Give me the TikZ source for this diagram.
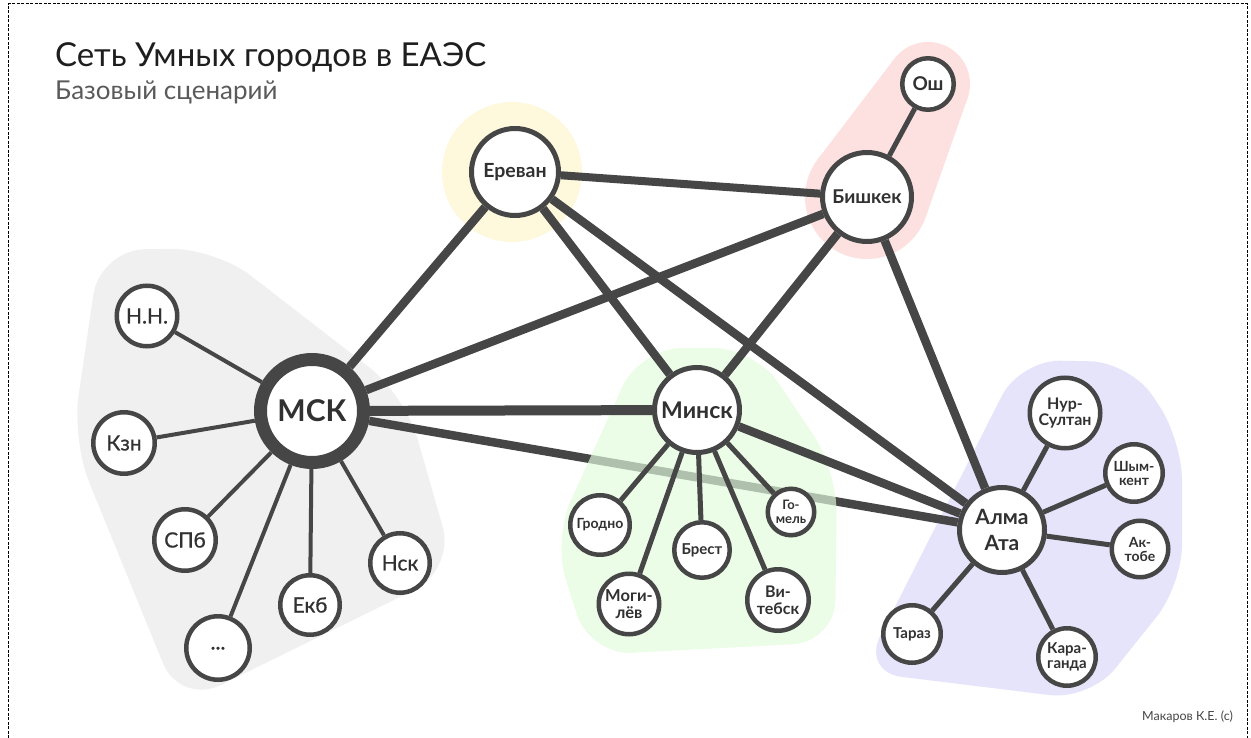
\documentclass[tikz,border=0pt]{standalone}
\usepackage{fontspec}
\setmainfont{Lato}
\newfontfamily\medfont[FakeBold=0.6]{Lato}
\newcommand\fsz[2]{\fontsize{#1}{#2}\selectfont}
\definecolor{dk}{HTML}{464646}
\definecolor{grayreg}{HTML}{F0F0F0}
\definecolor{yellowreg}{HTML}{FEF8DC}
\definecolor{pinkreg}{HTML}{FDE0E0}
\definecolor{purplereg}{HTML}{E6E4FB}
\definecolor{greenreg}{HTML}{E2FBDD}
\definecolor{titlecol}{HTML}{1E1E1E}
\definecolor{subcol}{HTML}{5A5A5A}
\pgfdeclarelayer{regions}
\pgfdeclarelayer{under}
\pgfdeclarelayer{greenlayer}
\pgfdeclarelayer{lines}
\pgfsetlayers{regions,under,greenlayer,lines,main}
\tikzset{
  city/.style={circle, draw=dk, fill=white, inner sep=0pt, align=center, text=dk!70!black},
  hub/.style={city, line width=5pt, font=\bfseries},
  sat/.style={city, line width=4.5pt},
  bsat/.style={city, line width=4.5pt, font=\bfseries},
  link/.style={draw=dk, line width=8.5pt},
  spoke/.style={draw=dk, line width=5pt},
  thinspoke/.style={draw=dk, line width=4pt},
}
\begin{document}
\begin{tikzpicture}[x=1pt,y=-1pt]
\useasboundingbox (0,0) rectangle (1251,738);

% hubs
\node[hub, line width=13pt, minimum size=103pt, font=\bfseries\fsz{30}{30}] (msk) at (312,411) {МСК};
\node[hub, minimum size=87pt, font=\bfseries\fsz{19.5}{20}] (erevan) at (515,172) {Ереван};
\node[hub, minimum size=89pt, font=\bfseries\fsz{19}{20}] (bishkek) at (867,197) {Бишкек};
\node[hub, line width=4.5pt, minimum size=51.5pt, font=\bfseries\fsz{19}{20}] (osh) at (928,84) {Ош};
\node[hub, minimum size=85pt, font=\bfseries\fsz{23}{24}] (minsk) at (697,410) {Минск};
\node[hub, minimum size=85pt, font=\bfseries\fsz{21}{26}] (almaty) at (1002,530) {Алма\\Ата};

% MSK satellites
\node[sat, minimum size=60.5pt, font=\medfont\fsz{21}{22}] (nn) at (147,316) {Н.Н.};
\node[sat, minimum size=61.5pt, font=\medfont\fsz{21}{22}] (kzn) at (124,443) {Кзн};
\node[sat, minimum size=61.5pt, font=\medfont\fsz{21}{22}] (spb) at (185,540) {СПб};
\node[sat, minimum size=63.5pt, font=\medfont\fsz{21}{22}] (dots) at (218,648) {\raisebox{-3pt}{...}};
\node[sat, minimum size=59.5pt, font=\medfont\fsz{21}{22}] (ekb) at (310,605) {Екб};
\node[sat, minimum size=59.5pt, font=\medfont\fsz{21}{22}] (nsk) at (400,563) {Нск};

% Minsk satellites
\node[bsat, minimum size=59.5pt, font=\bfseries\fsz{14}{15}] (grodno) at (600,525) {Гродно};
\node[bsat, minimum size=55.5pt, font=\bfseries\fsz{15}{16}] (brest) at (702,550) {Брест};
\node[bsat, minimum size=60.5pt, font=\bfseries\fsz{16.5}{17}] (mogilev) at (629,604) {Моги-\\лёв};
\node[bsat, minimum size=61.5pt, font=\bfseries\fsz{16}{17}] (vitebsk) at (778,600) {Ви-\\тебск};
\node[bsat, minimum size=46.5pt, font=\bfseries\fsz{13}{14}] (gomel) at (791,512) {Го-\\мель};

% Almaty satellites
\node[bsat, minimum size=70.5pt, font=\bfseries\fsz{16}{16}] (nur) at (1065,413) {Нур-\\Султан};
\node[bsat, minimum size=57.5pt, font=\bfseries\fsz{14}{14}] (shym) at (1134,473) {Шым-\\кент};
\node[bsat, minimum size=56.5pt, font=\bfseries\fsz{14}{14}] (aktobe) at (1140,549) {Ак-\\тобе};
\node[bsat, minimum size=57.5pt, font=\bfseries\fsz{15}{15}] (taraz) at (912,634) {Тараз};
\node[bsat, minimum size=57.5pt, font=\bfseries\fsz{15}{15}] (karag) at (1067,657) {Кара-\\ганда};

% titles
\node[anchor=base west, font=\fsz{33}{38}, text=titlecol, inner sep=0pt] (title) at (55,67) {Сеть Умных городов в ЕАЭС};
\node[anchor=base west, font=\fsz{26}{30}, text=subcol, inner sep=0pt] (subtitle) at (55,100) {Базовый сценарий};
\node[anchor=base east, font=\fsz{12.5}{14}, text=dk, inner sep=0pt] (author) at (1233,720) {Макаров К.Е. (с)};

\begin{pgfonlayer}{regions}
\fill[white] (0,0) rectangle (1251,738);
\draw[dash pattern=on 3pt off 1.5pt, line width=1pt, black] (8,738) -- (8,4) -- (1247,4) -- (1247,738);
\fill[grayreg, rounded corners=45pt] (100,250) -- (215,248) -- (405,395) -- (455,570) -- (180,705) -- (72,440) -- cycle;
\fill[yellowreg] (512,172) circle[radius=70];
\fill[pinkreg] (867,197) circle[radius=62];
\fill[pinkreg] (928,84) circle[radius=42];
\fill[pinkreg] (925.5,217.6) -- (967.6,97.9) -- (894.6,58.5) -- (817.7,159.4) -- cycle;
\fill[purplereg, rounded corners=40pt] (1020,360) -- (1130,362) -- (1182,440) -- (1182,585) -- (1090,700) -- (862,672) -- cycle;
\end{pgfonlayer}

\begin{pgfonlayer}{under}
\draw[link] (msk) -- (almaty);
\end{pgfonlayer}

\begin{pgfonlayer}{greenlayer}
\fill[greenreg, fill opacity=0.68, rounded corners=42pt] (640,348) -- (755,348) -- (837,470) -- (835,642) -- (590,655) -- (553,540) -- cycle;
\end{pgfonlayer}

\begin{pgfonlayer}{lines}
\draw[link] (msk) -- (erevan);
\draw[link] (msk) -- (bishkek);
\draw[link, line width=10pt] (msk) -- (minsk);
\draw[link, line width=8pt] (erevan) -- (bishkek);
\draw[link] (erevan) -- (minsk);
\draw[link] (erevan) -- (almaty);
\draw[link] (bishkek) -- (minsk);
\draw[link] (bishkek) -- (almaty);
\draw[link] (minsk) -- (almaty);
\draw[spoke] (bishkek) -- (osh);
\foreach \s in {nn,kzn,spb,dots,ekb,nsk} \draw[thinspoke] (msk) -- (\s);
\foreach \s in {grodno,brest,mogilev,vitebsk,gomel} \draw[spoke] (minsk) -- (\s);
\foreach \s in {nur,shym,aktobe,taraz,karag} \draw[spoke] (almaty) -- (\s);
\end{pgfonlayer}
\end{tikzpicture}
\end{document}
